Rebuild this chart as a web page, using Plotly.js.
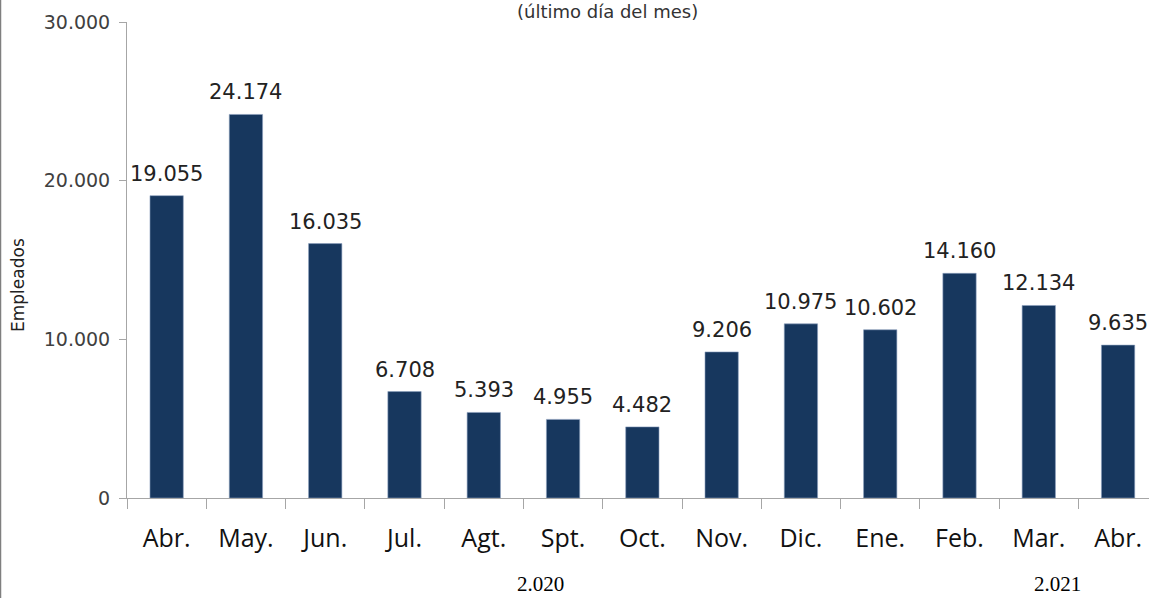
<!DOCTYPE html>
<html><head><meta charset="utf-8">
<script src="https://cdn.plot.ly/plotly-3.0.1.min.js"></script>
<style>html,body{margin:0;padding:0;background:#fff;}</style>
</head><body>
<div id="chart" style="width:1149px;height:598px;"></div>
<script>
const months = ["Abr.","May.","Jun.","Jul.","Agt.","Spt.","Oct.","Nov.","Dic.","Ene.","Feb.","Mar.","Abr."];
const employees = [19055,24174,16035,6708,5393,4955,4482,9206,10975,10602,14160,12134,9635];
const years = ["2.020","2.021"];
const yearPos = [4.72, 11.24];
const yTicks = [0,10000,20000,30000];

const idx = months.map((m,i)=>i);
const bounds = months.concat([""]).map((m,i)=>i-0.5);

const traces = [
  {type:'bar', x: idx, y: employees, width:0.42,
   marker:{color:'#17375E', line:{color:'#8CA0BE', width:0.6}},
   hoverinfo:'skip', xaxis:'x', yaxis:'y'},
  {type:'scatter', x: bounds, y: bounds.map(()=>0), mode:'markers',
   marker:{opacity:0}, hoverinfo:'skip', xaxis:'x2', yaxis:'y', showlegend:false}
];

const annotations = employees.map((v,i)=>({
  x:i, y:v, xref:'x', yref:'y', yanchor:'bottom', yshift:8,
  text: v.toLocaleString('de-DE'), showarrow:false,
  font:{family:'DejaVu Sans', size:21, color:'#222'}
}));
years.forEach((t,i)=>annotations.push({
  x:yearPos[i], y:0, xref:'x', yref:'paper', yanchor:'bottom', yshift:-99,
  text:t, showarrow:false, borderpad:0, font:{family:'Liberation Serif', size:21, color:'#000'}
}));
annotations.push({x:(607-127)/1022, xref:'paper', y:1, yref:'paper', yanchor:'top', yshift:22,
  text:'(último día del mes)', showarrow:false, borderpad:0,
  font:{family:'DejaVu Sans', size:18, color:'#333'}});
annotations.push({x:-(127-18)/1022, xref:'paper', y:(498-285)/476, yref:'paper',
  xanchor:'center', yanchor:'middle', textangle:-90,
  text:'Empleados', showarrow:false,
  font:{family:'DejaVu Sans', size:17, color:'#222'}});

const layout = {
  width:1149, height:598,
  margin:{l:127, r:0, t:22, b:100},
  paper_bgcolor:'#fff', plot_bgcolor:'#fff',
  separators:',.',
  showlegend:false,
  xaxis:{range:[-0.5,12.39], tickvals:idx, ticktext:months, ticks:'',
    showline:true, linecolor:'#A6A6A6', linewidth:1, showgrid:false, zeroline:false,
    tickfont:{family:'Open Sans', size:25, color:'#111'}, ticklabelstandoff:18, fixedrange:true},
  xaxis2:{overlaying:'x', matches:'x', range:[-0.5,12.39], tickvals:bounds, showticklabels:false,
    ticks:'outside', ticklen:10, tickcolor:'#A6A6A6', tickwidth:1, showgrid:false, zeroline:false, showline:false},
  yaxis:{range:[0,30000], tickvals:yTicks, tickformat:',', ticks:'outside', ticklen:7,
    tickcolor:'#A6A6A6', showline:true, linecolor:'#A6A6A6', linewidth:1, showgrid:false, zeroline:false,
    ticklabelstandoff:5,
    tickfont:{family:'DejaVu Sans', size:19, color:'#404040'}},
  annotations: annotations,
  shapes:[{type:'line', xref:'paper', yref:'paper', x0:-126.5/1022, x1:-126.5/1022, y0:-100/476, y1:1+22/476,
    line:{color:'#7F7F7F', width:1.5}}]
};
Plotly.newPlot('chart', traces, layout, {displayModeBar:false, staticPlot:true});
</script>
</body></html>
